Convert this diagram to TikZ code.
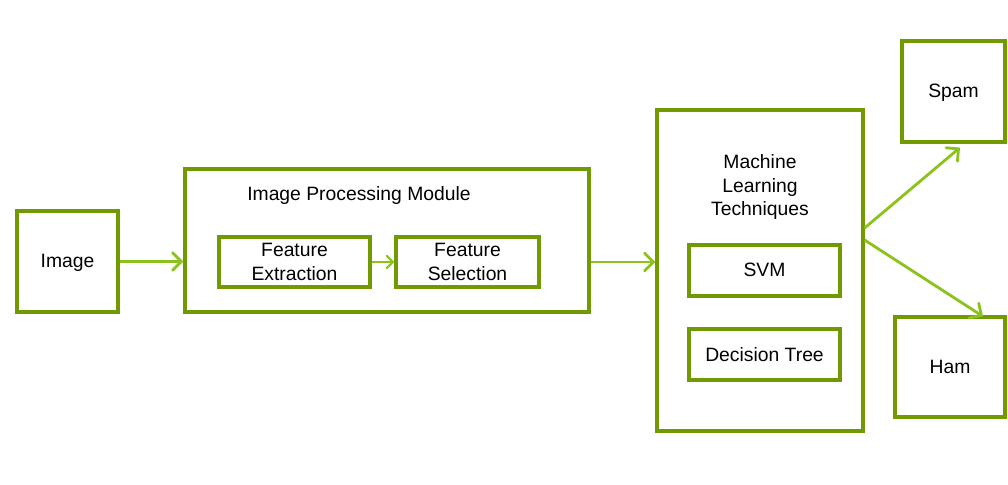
\documentclass[tikz,border=0pt]{standalone}
\usepackage{fontspec}
\setmainfont{Liberation Sans}
\usetikzlibrary{arrows.meta,calc}
\definecolor{boxgreen}{RGB}{112,154,0}
\definecolor{arrowgreen}{RGB}{140,194,28}

\begin{document}
\begin{tikzpicture}[x=0.02cm, y=-0.02cm,
  box/.style = {draw=boxgreen, line width=1.8pt, fill=white, inner sep=0pt, align=center,
                font=\fontsize{11}{13.6}\selectfont, text depth=0.5pt},
  title/.style = {inner sep=0pt, align=center, font=\fontsize{11}{13.6}\selectfont},
  arr/.style = {draw=arrowgreen, line width=1.6pt, -{Straight Barb[length=5pt,width=10pt,line cap=round]}},
  smallarr/.style = {draw=arrowgreen, line width=1.2pt, -{Straight Barb[length=3.5pt,width=7pt,line cap=round]}}]

\useasboundingbox (0, 0) rectangle (1008, 484);

% left part
\node[box, minimum width=101*0.02cm, minimum height=101*0.02cm] (Img) at (67.5, 261.5) {Image};

\node[box, minimum width=404*0.02cm, minimum height=143*0.02cm] (IPM) at (387, 240.5) {};
\node[title] (IPMt) at (359, 195) {Image Processing Module};
\node[box, minimum width=151*0.02cm, minimum height=50*0.02cm] (FE) at (294.5, 262) {Feature\\Extraction};
\node[box, minimum width=143*0.02cm, minimum height=50*0.02cm] (FS) at (467.5, 262) {Feature\\Selection};

% classifier
\node[box, minimum width=206*0.02cm, minimum height=321*0.02cm] (ML) at (760, 270.5) {};
\node[title] (MLt) at (760, 187) {Machine\\Learning\\Techniques};
\node[box, minimum width=151*0.02cm, minimum height=51*0.02cm] (SVM) at (764.5, 270.5) {SVM};
\node[box, minimum width=151*0.02cm, minimum height=51*0.02cm] (DT) at (764.5, 354.5) {Decision Tree};

% outputs
\node[box, minimum width=103*0.02cm, minimum height=101*0.02cm] (Spam) at (953.5, 91.5) {Spam};
\node[box, minimum width=110*0.02cm, minimum height=100*0.02cm] (Ham) at (950, 367) {Ham};

\draw[arr] (Img.east) -- (IPM.west |- Img.east);
\draw[smallarr] (FE.east) -- (FS.west);
\draw[arr] (IPM.east |- FE.east) -- (ML.west |- FE.east);
\draw[arr] ($(ML.east)+(0,-42.5)$) -- ($(Spam.south)+(6.5,4)$);
\draw[arr] ($(ML.east)+(0,-30.5)$) -- ($(Ham.north)+(33,1)$);

\end{tikzpicture}
\end{document}
